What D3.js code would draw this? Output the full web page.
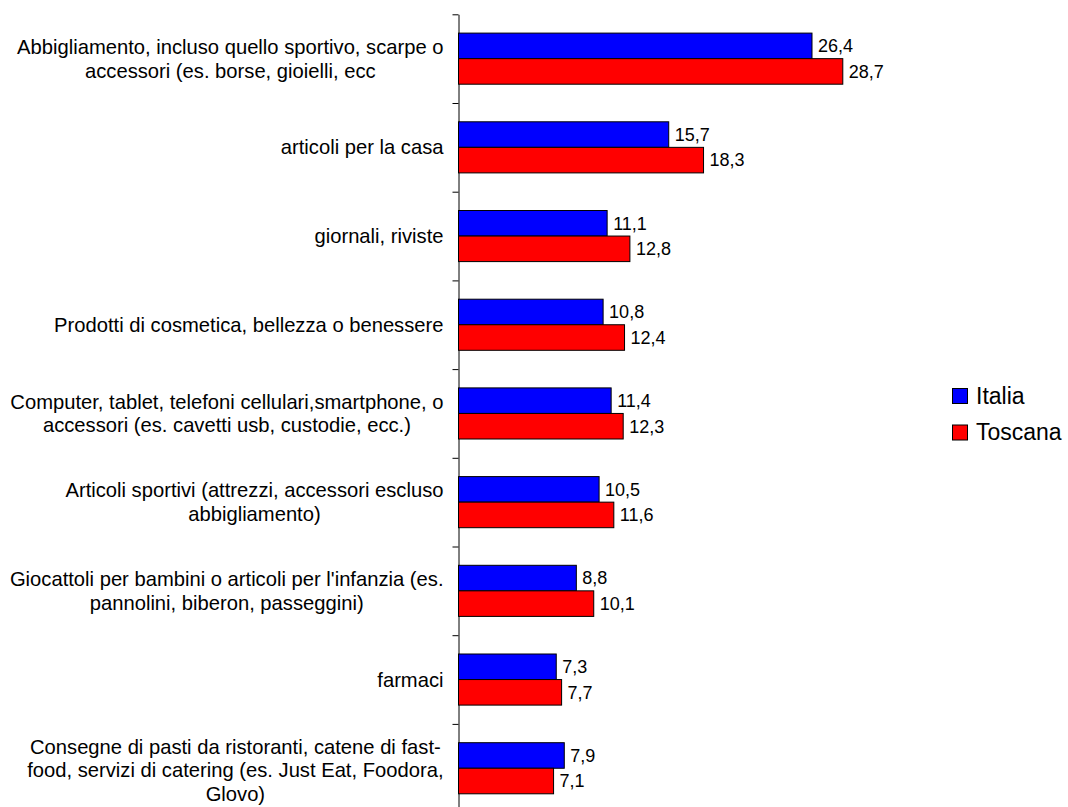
<!DOCTYPE html>
<html>
<head>
<meta charset="utf-8">
<script src="https://cdn.jsdelivr.net/npm/d3@7"></script>
<style>
  html, body { margin: 0; padding: 0; background: #fff; }
  svg { display: block; font-family: "Liberation Sans", Arial, sans-serif; }
</style>
</head>
<body>
<svg id="chart" width="1068" height="807"></svg>
<script>
// Categories (line breaks mark where each label wraps)
const categories = [
  "Abbigliamento, incluso quello sportivo, scarpe o\naccessori (es. borse, gioielli, ecc",
  "articoli per la casa",
  "giornali, riviste",
  "Prodotti di cosmetica, bellezza o benessere",
  "Computer, tablet, telefoni cellulari,smartphone, o\naccessori (es. cavetti usb, custodie, ecc.)",
  "Articoli sportivi (attrezzi, accessori escluso\nabbigliamento)",
  "Giocattoli per bambini o articoli per l'infanzia (es.\npannolini, biberon, passeggini)",
  "farmaci",
  "Consegne di pasti da ristoranti, catene di fast-\nfood, servizi di catering (es. Just Eat, Foodora,\nGlovo)"
];
const seriesNames = ["Italia", "Toscana"];
const italia  = [26.4, 15.7, 11.1, 10.8, 11.4, 10.5, 8.8, 7.3, 7.9];
const toscana = [28.7, 18.3, 12.8, 12.4, 12.3, 11.6, 10.1, 7.7, 7.1];
const colors = ["#0000ff", "#ff0000"];

const svg = d3.select("#chart");

const axisX = 458.5;
const plotTop = 14.3;
const band = 88.7;

const x = d3.scaleLinear().domain([0, 30]).range([axisX, axisX + 401.7]);
const y = d3.scaleBand().domain(categories).range([plotTop, plotTop + band * categories.length]).padding(0);
const ySub = d3.scaleBand().domain(seriesNames).range([18.8, band - 18.8]).padding(0);

// Vertical axis with ticks on the category boundaries
const boundary = d3.scaleLinear().domain([0, categories.length]).range([plotTop, plotTop + band * categories.length]);
svg.append("g")
  .attr("transform", `translate(${axisX},0)`)
  .call(d3.axisLeft(boundary)
    .tickValues(d3.range(0, categories.length + 1))
    .tickFormat("")
    .tickSizeInner(6)
    .tickSizeOuter(0))
  .call(g => g.selectAll("line, path").attr("stroke", "#000").attr("stroke-width", 1));

// Bars
const rows = categories.map((c, i) => ({ cat: c, values: [italia[i], toscana[i]] }));
const groups = svg.append("g").selectAll("g")
  .data(rows)
  .join("g")
  .attr("transform", d => `translate(0,${y(d.cat)})`);

groups.selectAll("rect")
  .data(d => d.values.map((v, k) => ({ name: seriesNames[k], v, k })))
  .join("rect")
  .attr("x", x(0))
  .attr("y", d => ySub(d.name))
  .attr("width", d => x(d.v) - x(0))
  .attr("height", ySub.bandwidth())
  .attr("fill", d => colors[d.k])
  .attr("stroke", "#000")
  .attr("stroke-width", 1);

// Value labels
const fmt = v => d3.format(".1f")(v).replace(".", ",");
groups.selectAll("text.val")
  .data(d => d.values.map((v, k) => ({ name: seriesNames[k], v, k })))
  .join("text")
  .attr("class", "val")
  .attr("x", d => x(d.v) + 6)
  .attr("y", d => ySub(d.name) + ySub.bandwidth() / 2)
  .attr("dy", "0.35em")
  .attr("font-size", 18)
  .attr("fill", "#000")
  .text(d => fmt(d.v));

// Category labels: block right-aligned, lines centred inside it
const labelRight = 443.5;
const lineH = 23.8;
const labels = svg.append("g").selectAll("g")
  .data(categories)
  .join("g");

labels.each(function (c) {
  const g = d3.select(this);
  const lines = c.split("\n");
  const cy = y(c) + band / 2 + (lines.length > 2 ? 2 : 0);
  const t = g.selectAll("text")
    .data(lines)
    .join("text")
    .attr("font-size", 20.2)
    .attr("fill", "#000")
    .attr("text-anchor", "middle")
    .attr("dy", "0.35em")
    .attr("y", (d, i) => cy + (i - (lines.length - 1) / 2) * lineH)
    .text(d => d);
  let maxW = 0;
  t.each(function () { maxW = Math.max(maxW, this.getComputedTextLength()); });
  t.attr("x", labelRight - maxW / 2);
});

// Legend
const legend = svg.append("g").attr("transform", "translate(952.5,388.5)");
seriesNames.forEach((name, i) => {
  const row = legend.append("g").attr("transform", `translate(0,${i * 36.5})`);
  row.append("rect")
    .attr("width", 15).attr("height", 15)
    .attr("fill", colors[i]).attr("stroke", "#000").attr("stroke-width", 1);
  row.append("text")
    .attr("x", 23.5).attr("y", 15)
    .attr("font-size", 23).attr("fill", "#000")
    .text(name);
});
</script>
</body>
</html>
